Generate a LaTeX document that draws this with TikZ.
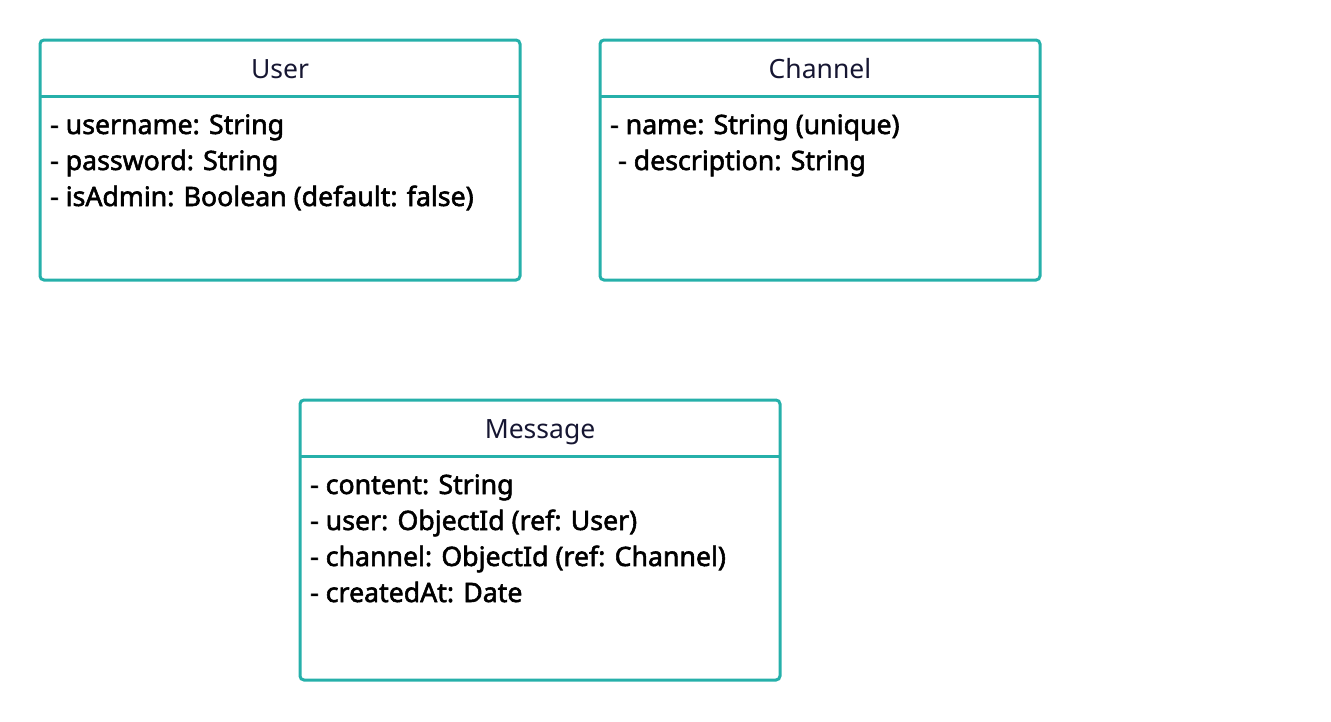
\documentclass[tikz,border=0pt]{standalone}
\usepackage{fontspec}
\setmainfont{Noto Sans}
\newcommand\heavytext[1]{\special{pdf:literal direct 2 Tr 0.55 w 0 G}#1\special{pdf:literal direct 0 Tr}}
\definecolor{umlteal}{RGB}{38,176,170}
\definecolor{titlecol}{RGB}{22,22,50}
\begin{document}
\begin{tikzpicture}[x=1pt,y=-1pt,
  classbox/.style={draw=umlteal, line width=3pt, rounded corners=4pt, fill=white, inner sep=0pt, outer sep=0pt, anchor=north west},
  divider/.style={draw=umlteal, line width=3pt},
  ctitle/.style={text=titlecol, font=\fontsize{26.5}{32}\selectfont, anchor=base, inner sep=0pt},
  attr/.style={text=black, font=\fontsize{26.7}{32}\selectfont, anchor=base west, inner sep=0pt}]
\useasboundingbox (0,0) rectangle (1331,721);
% User
\node[classbox, minimum width=480pt, minimum height=240pt] (user) at (40,40) {};
\draw[divider] (user.west |- 0,96) -- (user.east |- 0,96);
\node[ctitle] (usert) at (280,78) {User};
\node[attr] (u1) at (50,134) {\heavytext{- username: String}};
\node[attr] (u2) at (50,170) {\heavytext{- password: String}};
\node[attr] (u3) at (50,206) {\heavytext{- isAdmin: Boolean (default: false)}};
% Channel
\node[classbox, minimum width=440pt, minimum height=240pt] (channel) at (600,40) {};
\draw[divider] (channel.west |- 0,96) -- (channel.east |- 0,96);
\node[ctitle] (channelt) at (820,78) {Channel};
\node[attr] (c1) at (610,134) {\heavytext{- name: String (unique)}};
\node[attr] (c2) at (618,170) {\heavytext{- description: String}};
% Message
\node[classbox, minimum width=480pt, minimum height=280pt] (message) at (300,400) {};
\draw[divider] (message.west |- 0,456) -- (message.east |- 0,456);
\node[ctitle] (messaget) at (540,438) {Message};
\node[attr] (m1) at (310,494) {\heavytext{- content: String}};
\node[attr] (m2) at (310,530) {\heavytext{- user: ObjectId (ref: User)}};
\node[attr] (m3) at (310,566) {\heavytext{- channel: ObjectId (ref: Channel)}};
\node[attr] (m4) at (310,602) {\heavytext{- createdAt: Date}};
\end{tikzpicture}
\end{document}
